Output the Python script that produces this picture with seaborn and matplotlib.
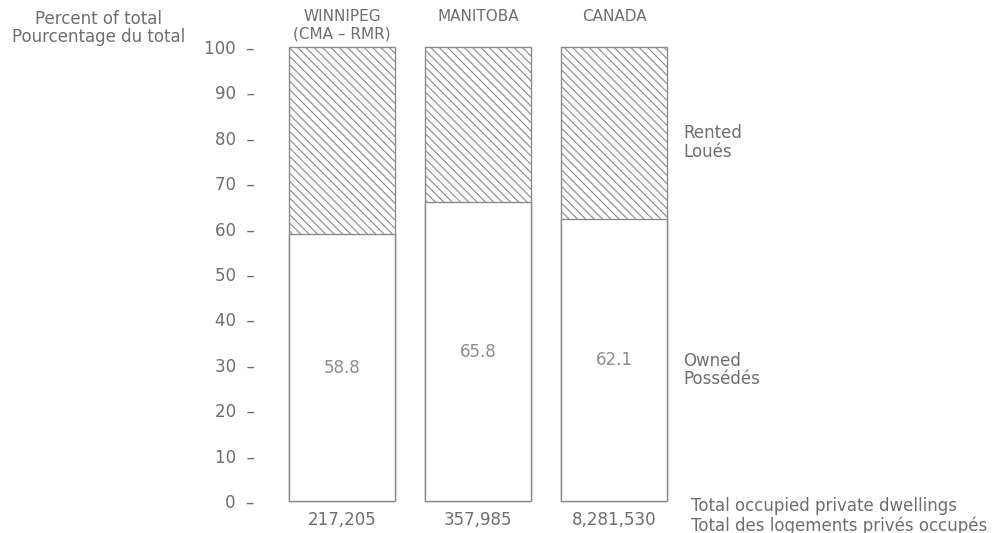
import pandas as pd
import seaborn as sns
import matplotlib.pyplot as plt

# Data
regions = ["WINNIPEG\n(CMA \u2013 RMR)", "MANITOBA", "CANADA"]
owned = [58.8, 65.8, 62.1]
rented = [41.2, 34.2, 37.9]
dwellings = ["217,205", "357,985", "8,281,530"]
yticks = [0, 10, 20, 30, 40, 50, 60, 70, 80, 90, 100]

df = pd.DataFrame({"region": regions, "owned": owned, "rented": rented})
df["total"] = df["owned"] + df["rented"]

sns.set_theme(style="white")
plt.rcParams['font.family'] = ['DejaVu Sans']
plt.rcParams['hatch.linewidth'] = 0.8
gray = "#6e6e6e"
edge = "#8a8a8a"

fig = plt.figure(figsize=(10.03, 5.33), dpi=100)
ax = fig.add_axes([0.2732, 0.0600, 0.4068, 0.8518])

# Hatched full bar (rented part shows above owned)
sns.barplot(data=df, x="region", y="total", color="white", edgecolor=edge,
            hatch="\\\\\\\\", linewidth=1.0, width=0.775, ax=ax, zorder=1)
# Owned part drawn on top in plain white
sns.barplot(data=df, x="region", y="owned", color="white", edgecolor=edge,
            linewidth=1.0, width=0.775, ax=ax, zorder=2)
for p in ax.patches:
    p.set_clip_on(False)

ax.set_xlim(-0.5, 2.5)
ax.set_ylim(0, 100)
ax.set_yticks(yticks)
ax.set_yticklabels([f"{v}  \u2013" for v in yticks], color=gray, fontsize=12)
ax.tick_params(axis="y", length=0, pad=14)
ax.set_xticks([])
ax.set_xlabel("")
ax.set_ylabel("")
for s in ax.spines.values():
    s.set_visible(False)

# Values inside the owned section
for i, v in enumerate(owned):
    ax.text(i, v / 2, f"{v}", ha="center", va="center", color="#8c8c8c", fontsize=12)

# Region labels above bars
for i, r in enumerate(regions):
    ax.annotate(r, xy=(i, 1 - 9 / 533), xycoords=("data", "figure fraction"),
                ha="center", va="top", color=gray, fontsize=11,
                linespacing=1.2, annotation_clip=False)

# Totals below bars
for i, d in enumerate(dwellings):
    ax.annotate(d, xy=(i, 0), xycoords="data", xytext=(0, -7),
                textcoords="offset points", ha="center", va="top",
                color=gray, fontsize=12, annotation_clip=False)

fig.text(0.098, 0.982, "Percent of total\nPourcentage du total", ha="center",
         va="top", color=gray, fontsize=12, linespacing=1.05)
fig.text(0.681, 0.732, "Rented\nLou\u00e9s", ha="left", va="center",
         color=gray, fontsize=12, linespacing=1.05)
fig.text(0.681, 0.306, "Owned\nPoss\u00e9d\u00e9s", ha="left", va="center",
         color=gray, fontsize=12, linespacing=1.05)
fig.text(0.689, 0.032, "Total occupied private dwellings\nTotal des logements priv\u00e9s occup\u00e9s",
         ha="left", va="center", color=gray, fontsize=12, linespacing=1.05)

fig.savefig("out.png", dpi=100, facecolor="white")
